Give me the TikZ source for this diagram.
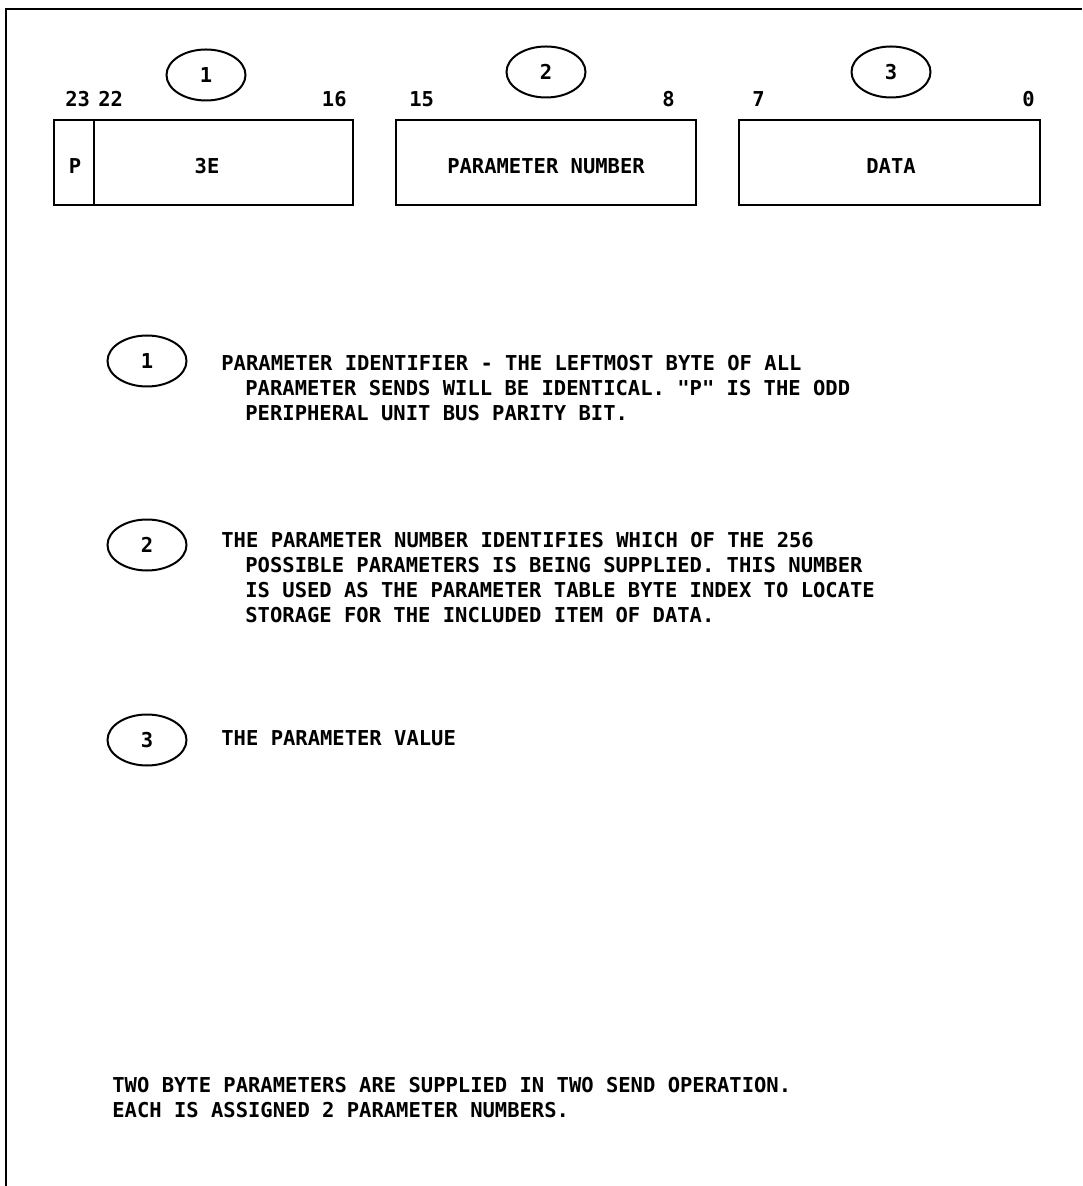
\documentclass[tikz,border=0pt]{standalone}
\usepackage{fontspec}
\usetikzlibrary{shapes.geometric}
\newfontfamily\plotfont{DejaVu Sans Mono}
\tikzset{
  plot/.style={font={\fontsize{10.25pt}{12pt}\plotfont\bfseries}},
  lbl/.style={plot, inner sep=0pt, anchor=base west},
  lble/.style={plot, inner sep=0pt, anchor=base east},
  ctr/.style={plot, inner sep=0pt, anchor=base},
  fld/.style={draw, line width=1.1pt, inner sep=0pt, minimum height=42.5pt},
  oval/.style={draw, ellipse, line width=1pt, inner sep=0pt, minimum width=39.5pt, minimum height=25.5pt, plot},
  frame/.style={line width=1.2pt}
}
\begin{document}
\begin{tikzpicture}[x=0.5pt,y=-0.5pt]
\useasboundingbox (0,0) rectangle (1082,1186);
% frame
\coordinate (fbl) at (6,1186);
\coordinate (ftl) at (6,9);
\coordinate (ftr) at (1082,9);
\draw[frame] (fbl) -- (ftl) -- (ftr);

% top circles
\node[oval] (o1) at (206,75) {1};
\node[oval] (o2) at (546,72) {2};
\node[oval] (o3) at (891,72) {3};

% bit numbers
\node[lbl]  (b23) at (65,107) {23};
\node[lbl]  (b22) at (98,107) {22};
\node[lble] (b16) at (347,107) {16};
\node[lbl]  (b15) at (409,107) {15};
\node[lble] (b8)  at (675,107) {8};
\node[lbl]  (b7)  at (752,107) {7};
\node[lble] (b0)  at (1035,107) {0};

% fields
\node[fld, minimum width=20pt]    (fp)    at (74,162.5) {};
\node[fld, minimum width=129.5pt] (f3e)   at (223.5,162.5) {};
\node[fld, minimum width=150pt]   (fpar)  at (546,162.5) {};
\node[fld, minimum width=150.5pt] (fdata) at (889.5,162.5) {};
\node[ctr] (tp)    at (75,173.5) {P};
\node[ctr] (t3e)   at (207,173.5) {3E};
\node[ctr] (tpar)  at (546,173.5) {PARAMETER NUMBER};
\node[ctr] (tdata) at (891,173.5) {DATA};

% legend 1
\node[oval] (l1) at (147,361) {1};
\node[lbl] (l1a) at (221,370.5) {PARAMETER IDENTIFIER - THE LEFTMOST BYTE OF ALL};
\node[lbl] (l1b) at (245,395.5) {PARAMETER SENDS WILL BE IDENTICAL. "P" IS THE ODD};
\node[lbl] (l1c) at (245,420.5) {PERIPHERAL UNIT BUS PARITY BIT.};

% legend 2
\node[oval] (l2) at (147,545) {2};
\node[lbl] (l2a) at (221,547.5) {THE PARAMETER NUMBER IDENTIFIES WHICH OF THE 256};
\node[lbl] (l2b) at (245,572.5) {POSSIBLE PARAMETERS IS BEING SUPPLIED. THIS NUMBER};
\node[lbl] (l2c) at (245,597.5) {IS USED AS THE PARAMETER TABLE BYTE INDEX TO LOCATE};
\node[lbl] (l2d) at (245,622.5) {STORAGE FOR THE INCLUDED ITEM OF DATA.};

% legend 3
\node[oval] (l3) at (147,740) {3};
\node[lbl] (l3a) at (221,745.5) {THE PARAMETER VALUE};

% note
\node[lbl] (n1) at (112,1092.5) {TWO BYTE PARAMETERS ARE SUPPLIED IN TWO SEND OPERATION.};
\node[lbl] (n2) at (112,1117.5) {EACH IS ASSIGNED 2 PARAMETER NUMBERS.};
\end{tikzpicture}
\end{document}
